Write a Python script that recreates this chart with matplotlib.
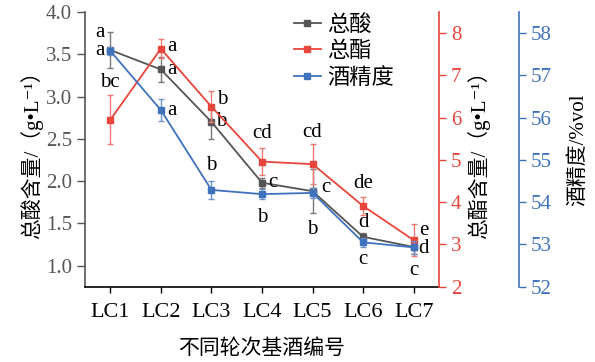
import matplotlib
matplotlib.use("Agg")
import matplotlib.pyplot as plt
from matplotlib.lines import Line2D

plt.rcParams['font.family'] = ['Liberation Serif', 'Noto Sans CJK SC', 'DejaVu Sans']
plt.rcParams['axes.unicode_minus'] = False

samples = ['LC1', 'LC2', 'LC3', 'LC4', 'LC5', 'LC6', 'LC7']
acid = [3.55, 3.32, 2.70, 1.98, 1.88, 1.34, 1.22]
acid_err = [0.21, 0.15, 0.20, 0.06, 0.26, 0.05, 0.08]
ester = [5.95, 7.63, 6.26, 4.96, 4.90, 3.91, 3.10]
ester_err = [0.58, 0.23, 0.36, 0.32, 0.47, 0.21, 0.38]
alcohol = [57.58, 56.18, 54.29, 54.19, 54.22, 53.05, 52.93]
alcohol_err = [0.10, 0.26, 0.21, 0.12, 0.12, 0.10, 0.15]

acid_sig = ['a', 'a', 'b', 'c', 'c', 'd', 'd']
ester_sig = ['bc', 'a', 'b', 'cd', 'cd', 'de', 'e']
alcohol_sig = ['a', 'a', 'b', 'b', 'b', 'c', 'c']

# label offsets in pixels (dx, dy)
acid_off = [(-10, 18), (11, 0), (10, 0), (11, 0), (13, 4), (0, 14), (10, -2)]
ester_off = [(0, 37), (11, 2), (11, 7), (0, 28), (0, 32), (0, 22), (10, 10)]
alcohol_off = [(-10, 0), (11, 0), (0, 24), (0, -23), (0, -37), (0, -17), (0, -23)]

gray = '#555555'
red = '#e8453c'
blue = '#3f72bd'

fig = plt.figure(figsize=(5.95, 3.62), dpi=100)
ax = fig.add_axes([85/595, 1-286.7/362, 354/595, 274.7/362])
ax2 = ax.twinx()
ax3 = ax.twinx()
ax3.spines['right'].set_position(('axes', 1 + 80/354))

x = list(range(len(samples)))
ax.errorbar(x, acid, yerr=acid_err, color=gray, marker='s', ms=5, lw=1.3,
            ecolor='#777777', elinewidth=1, capsize=2.5)
ax2.errorbar(x, ester, yerr=ester_err, color=red, marker='s', ms=5, lw=1.3,
             ecolor='#ee7a72', elinewidth=1, capsize=2.5)
ax3.errorbar(x, alcohol, yerr=alcohol_err, color=blue, marker='s', ms=5, lw=1.3,
             ecolor='#6f93cc', elinewidth=1, capsize=2.5)

for a, vals, sig, off in [(ax, acid, acid_sig, acid_off),
                          (ax2, ester, ester_sig, ester_off),
                          (ax3, alcohol, alcohol_sig, alcohol_off)]:
    for i in range(len(vals)):
        a.annotate(sig[i], (x[i], vals[i]), xytext=off[i], textcoords='offset pixels',
                   ha='center', va='center', fontsize=15, color='black')

ax.set_xlim(-0.5, 6.5)
ax.set_ylim(0.75, 4.0)
ax2.set_ylim(2, 8.5)
ax3.set_ylim(52, 58.5)
ax.set_xticks(x)
ax.set_xticklabels(samples, fontsize=16)
ax.set_yticks([1.0, 1.5, 2.0, 2.5, 3.0, 3.5, 4.0])
ax.set_yticklabels(['1.0', '1.5', '2.0', '2.5', '3.0', '3.5', '4.0'])
ax2.set_yticks([2, 3, 4, 5, 6, 7, 8])
ax3.set_yticks([52, 53, 54, 55, 56, 57, 58])

ax.tick_params(axis='y', colors=gray, labelsize=15, length=6, width=1)
ax.tick_params(axis='x', colors='black', labelsize=16, length=4, width=1, pad=8)
ax2.tick_params(axis='y', colors=red, labelsize=15, length=5, width=1)
ax3.tick_params(axis='y', colors=blue, labelsize=15, length=5, width=1)

for a in (ax, ax2, ax3):
    a.spines['top'].set_visible(False)
ax.spines['right'].set_visible(False)
ax.spines['left'].set_color(gray)
ax.spines['bottom'].set_color('black')
ax2.spines['left'].set_visible(False)
ax2.spines['bottom'].set_visible(False)
ax2.spines['right'].set_color(red)
ax3.spines['left'].set_visible(False)
ax3.spines['bottom'].set_visible(False)
ax3.spines['right'].set_color(blue)
for a in (ax, ax2, ax3):
    for s in a.spines.values():
        s.set_linewidth(1.2)

ax.set_xlabel('不同轮次基酒编号', fontsize=15, labelpad=12)
ax.set_ylabel('总酸含量/（g•L⁻¹）', fontsize=15, labelpad=2)
ax2.set_ylabel('总酯含量/（g•L⁻¹）', fontsize=15, labelpad=4)
ax3.set_ylabel('酒精度/%vol', fontsize=15, labelpad=12)

handles = [Line2D([], [], color=gray, marker='s', ms=5, lw=1.3),
           Line2D([], [], color=red, marker='s', ms=5, lw=1.3),
           Line2D([], [], color=blue, marker='s', ms=5, lw=1.3)]
fig.legend(handles=handles, labels=['总酸', '总酯', '酒精度'], loc='upper left',
           bbox_to_anchor=(294/595, 1-15/362), frameon=False, fontsize=16,
           handlelength=1.2, handletextpad=0.3, labelspacing=0.25,
           borderpad=0, borderaxespad=0)

fig.savefig('out.png', dpi=100)
